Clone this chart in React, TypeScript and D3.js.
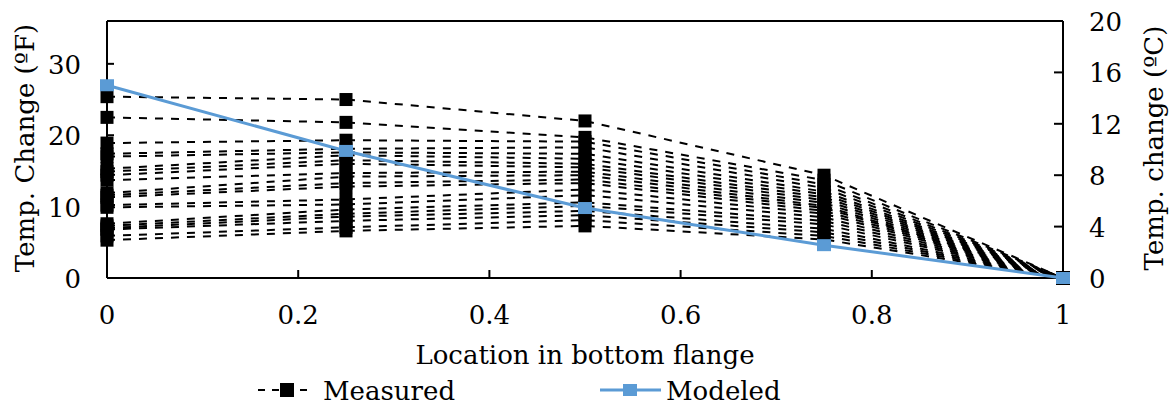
import React from 'react'
import * as d3 from 'd3'

// locations along the flange (fraction of width)
const locations = [0, 0.25, 0.5, 0.75, 1]

// measured temperature change, deg F, one row per thermocouple record
const measured = [
  [25.4, 25.0, 22.0, 14.4, 0],
  [22.5, 21.8, 19.7, 13.7, 0],
  [18.9, 19.3, 19.1, 13.1, 0],
  [17.4, 18.1, 18.3, 12.6, 0],
  [17.0, 17.6, 17.4, 12.1, 0],
  [15.3, 17.2, 16.7, 11.7, 0],
  [14.9, 16.5, 16.0, 11.3, 0],
  [14.4, 16.0, 15.5, 10.9, 0],
  [13.7, 14.7, 14.9, 10.5, 0],
  [11.9, 14.2, 14.4, 10.1, 0],
  [11.6, 13.3, 13.8, 9.8, 0],
  [11.3, 12.8, 13.3, 9.4, 0],
  [10.2, 11.0, 12.4, 9.0, 0],
  [9.9, 10.3, 11.6, 8.5, 0],
  [7.6, 9.6, 10.6, 8.0, 0],
  [7.3, 9.0, 10.1, 7.5, 0],
  [7.0, 8.6, 9.4, 6.9, 0],
  [6.8, 8.0, 8.8, 6.4, 0],
  [5.9, 7.1, 8.1, 5.9, 0],
  [5.3, 6.6, 7.3, 5.4, 0],
]

const modeled = [27.0, 17.8, 9.8, 4.6, 0]

const xTicks = [0, 0.2, 0.4, 0.6, 0.8, 1]
const leftTicks = [0, 10, 20, 30]
const rightTicks = [0, 4, 8, 12, 16, 20]

const W = 1172
const H = 407
const left = 107
const right = 1063
const top = 21
const bottom = 278
const font = "'DejaVu Serif', serif"
const fs = 26
const blue = '#5B9BD5'

const T = (props: any) => <text fontFamily={font} fontSize={fs} fill="#000" {...props} />

const App = () => {
  const x = d3.scaleLinear().domain([0, 1]).range([left, right])
  const yF = d3.scaleLinear().domain([0, 36]).range([bottom, top])
  const yC = d3.scaleLinear().domain([0, 20]).range([bottom, top])

  const line = d3
    .line<number>()
    .x((d, i) => x(locations[i]))
    .y((d) => yF(d))

  const ms = 13

  return (
    <svg width={W} height={H} style={{ position: 'absolute', left: 0, top: 0, background: '#fff' }}>
      {/* measured */}
      <g>
        {measured.map((s, k) => (
          <path
            key={k}
            d={line(s) || ''}
            fill="none"
            stroke="#000"
            strokeWidth={2}
            strokeDasharray="8,8"
          />
        ))}
        {measured.map((s, k) =>
          s.map((v, i) => (
            <rect
              key={k + '-' + i}
              x={x(locations[i]) - ms / 2}
              y={yF(v) - ms / 2}
              width={ms}
              height={ms}
              fill="#000"
            />
          ))
        )}
      </g>

      {/* frame */}
      <g stroke="#000" strokeWidth={2} fill="none">
        <line x1={left} x2={right} y1={bottom} y2={bottom} />
        <line x1={left} x2={left} y1={top} y2={bottom} />
        <line x1={right} x2={right} y1={top} y2={bottom} />
        <line x1={left} x2={right} y1={top} y2={top} />
        {xTicks.map((t) => (
          <line key={t} x1={x(t)} x2={x(t)} y1={bottom} y2={bottom - 8} />
        ))}
        {leftTicks.map((t) => (
          <line key={t} x1={left} x2={left + 7} y1={yF(t)} y2={yF(t)} />
        ))}
        {rightTicks.map((t) => (
          <line key={t} x1={right} x2={right - 9} y1={yC(t)} y2={yC(t)} />
        ))}
      </g>

      {/* modeled */}
      <path d={line(modeled) || ''} fill="none" stroke={blue} strokeWidth={3} />
      {modeled.map((v, i) => (
        <rect
          key={i}
          x={x(locations[i]) - 7}
          y={yF(v) - 6}
          width={14}
          height={12}
          fill={blue}
        />
      ))}

      {/* tick labels */}
      {xTicks.map((t) => (
        <T key={t} x={x(t)} y={324} textAnchor="middle">
          {t}
        </T>
      ))}
      {leftTicks.map((t) => (
        <T key={t} x={81} y={yF(t) + 10} textAnchor="end">
          {t}
        </T>
      ))}
      {rightTicks.map((t) => (
        <T key={t} x={1089} y={yC(t) + 10} textAnchor="start">
          {t}
        </T>
      ))}

      {/* titles */}
      <T x={585} y={364} textAnchor="middle">
        Location in bottom flange
      </T>
      <T transform="translate(34,148) rotate(-90)" textAnchor="middle">
        Temp. Change (ºF)
      </T>
      <T transform="translate(1163,148) rotate(-90)" textAnchor="middle">
        Temp. change (ºC)
      </T>

      {/* legend */}
      <g>
        <line
          x1={258}
          x2={313}
          y1={390}
          y2={390}
          stroke="#000"
          strokeWidth={2}
          strokeDasharray="7,7"
        />
        <rect x={280} y={383} width={14} height={14} fill="#000" />
        <T x={323} y={400}>
          Measured
        </T>
        <line x1={600} x2={661} y1={390} y2={390} stroke={blue} strokeWidth={3} />
        <rect x={623} y={384} width={14} height={12} fill={blue} />
        <T x={666} y={400}>
          Modeled
        </T>
      </g>
    </svg>
  )
}

export default App
